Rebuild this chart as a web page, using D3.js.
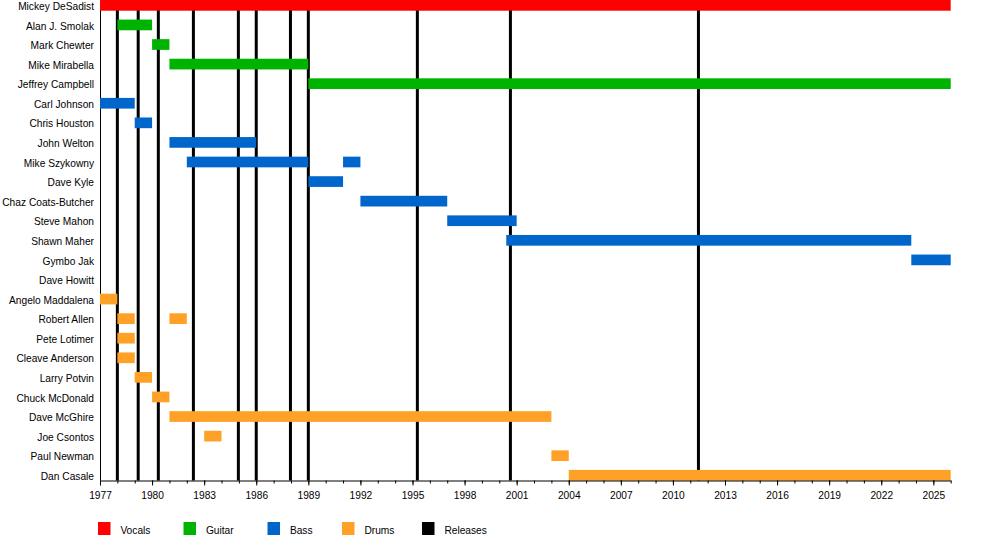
<!DOCTYPE html>
<html>
<head>
<meta charset="utf-8">
<script src="https://cdn.jsdelivr.net/npm/d3@7/dist/d3.min.js"></script>
<style>
  html, body { margin: 0; padding: 0; background: #fff; }
  svg text { font-family: "Liberation Sans", Arial, sans-serif; font-size: 10.2px; fill: #000; }
</style>
</head>
<body>
<svg id="chart" width="1000" height="540"></svg>
<script>
// ---------------- data ----------------
const members = [
  "Mickey DeSadist", "Alan J. Smolak", "Mark Chewter", "Mike Mirabella", "Jeffrey Campbell",
  "Carl Johnson", "Chris Houston", "John Welton", "Mike Szykowny", "Dave Kyle",
  "Chaz Coats-Butcher", "Steve Mahon", "Shawn Maher", "Gymbo Jak", "Dave Howitt",
  "Angelo Maddalena", "Robert Allen", "Pete Lotimer", "Cleave Anderson", "Larry Potvin",
  "Chuck McDonald", "Dave McGhire", "Joe Csontos", "Paul Newman", "Dan Casale"
];

const vocalsSpans = [
  ["Mickey DeSadist", 1977, 2026]
];
const guitarSpans = [
  ["Alan J. Smolak", 1978, 1980],
  ["Mark Chewter", 1980, 1981],
  ["Mike Mirabella", 1981, 1989],
  ["Jeffrey Campbell", 1989, 2026]
];
const bassSpans = [
  ["Carl Johnson", 1977, 1979],
  ["Chris Houston", 1979, 1980],
  ["John Welton", 1981, 1986],
  ["Mike Szykowny", 1982, 1989],
  ["Mike Szykowny", 1991, 1992],
  ["Dave Kyle", 1989, 1991],
  ["Chaz Coats-Butcher", 1992, 1997],
  ["Steve Mahon", 1997, 2001],
  ["Shawn Maher", 2000.4, 2023.73],
  ["Gymbo Jak", 2023.73, 2026]
];
const drumsSpans = [
  ["Angelo Maddalena", 1977, 1978],
  ["Robert Allen", 1978, 1979],
  ["Robert Allen", 1981, 1982],
  ["Pete Lotimer", 1978, 1979],
  ["Cleave Anderson", 1978, 1979],
  ["Larry Potvin", 1979, 1980],
  ["Chuck McDonald", 1980, 1981],
  ["Dave McGhire", 1981, 2003],
  ["Joe Csontos", 1983, 1984],
  ["Paul Newman", 2003, 2004],
  ["Dan Casale", 2004, 2026]
];
const releases = [1978.0, 1979.2, 1980.36, 1982.38, 1984.97, 1986.0, 1987.97, 1989.0, 1995.28, 2000.64, 2011.47];

const tickYears = [1977, 1980, 1983, 1986, 1989, 1992, 1995, 1998, 2001, 2004, 2007, 2010, 2013, 2016, 2019, 2022, 2025];
const minorYears = d3.range(1977, 2027);

const legendLabels = ["Vocals", "Guitar", "Bass", "Drums", "Releases"];
const colors = { Vocals: "#ff0000", Guitar: "#00b300", Bass: "#0066cc", Drums: "#ffa126", Releases: "#000000" };

// ---------------- drawing ----------------
const svg = d3.select("#chart");
const x = d3.scaleLinear().domain([1977, 2026]).range([100, 950.7]);
const y = d3.scaleBand().domain(members).range([0, 25 * 19.58]).paddingInner(0).paddingOuter(0);
const barH = 10.7;
const axisY = 480.5;

// release lines (behind bars)
svg.append("g").selectAll("line").data(releases).join("line")
  .attr("x1", d => x(d)).attr("x2", d => x(d))
  .attr("y1", 0).attr("y2", axisY)
  .attr("stroke", colors.Releases).attr("stroke-width", 3);

// left border line
svg.append("line").attr("x1", 100.5).attr("x2", 100.5).attr("y1", 0).attr("y2", axisY)
  .attr("stroke", "#000").attr("stroke-width", 1);

// bars
const groups = [["Vocals", vocalsSpans], ["Guitar", guitarSpans], ["Bass", bassSpans], ["Drums", drumsSpans]];
groups.forEach(([role, spans]) => {
  svg.append("g").selectAll("rect").data(spans).join("rect")
    .attr("x", d => x(d[1]))
    .attr("y", d => y(d[0]))
    .attr("width", d => x(d[2]) - x(d[1]))
    .attr("height", barH)
    .attr("fill", colors[role]);
});

// member labels
svg.append("g").selectAll("text").data(members).join("text")
  .attr("x", 94)
  .attr("y", d => y(d) + 10)
  .attr("text-anchor", "end")
  .text(d => d);

// axis: minor ticks
svg.append("g").attr("transform", `translate(0,${axisY})`)
  .call(d3.axisBottom(x).tickValues(minorYears).tickSize(3).tickSizeOuter(0).tickFormat(""))
  .call(g => g.select(".domain").attr("stroke", "#000"))
  .call(g => g.selectAll(".tick line").attr("stroke", "#000"));

// axis: major ticks with labels
svg.append("g").attr("transform", `translate(0,${axisY})`)
  .call(d3.axisBottom(x).tickValues(tickYears).tickSize(5).tickPadding(6).tickSizeOuter(0).tickFormat(d3.format("d")))
  .call(g => g.select(".domain").remove())
  .call(g => g.selectAll(".tick line").attr("stroke", "#000"))
  .call(g => g.selectAll(".tick text").attr("font-family", "Liberation Sans, Arial, sans-serif").attr("font-size", "10.2px").attr("fill", "#000"));

// legend
const legendX = [98, 183.5, 267.5, 342, 422];
const lg = svg.append("g");
legendLabels.forEach((lab, i) => {
  lg.append("rect").attr("x", legendX[i]).attr("y", 522).attr("width", 12.5).attr("height", 13).attr("fill", colors[lab]);
  lg.append("text").attr("x", legendX[i] + 22.4).attr("y", 533.8).text(lab);
});
</script>
</body>
</html>
